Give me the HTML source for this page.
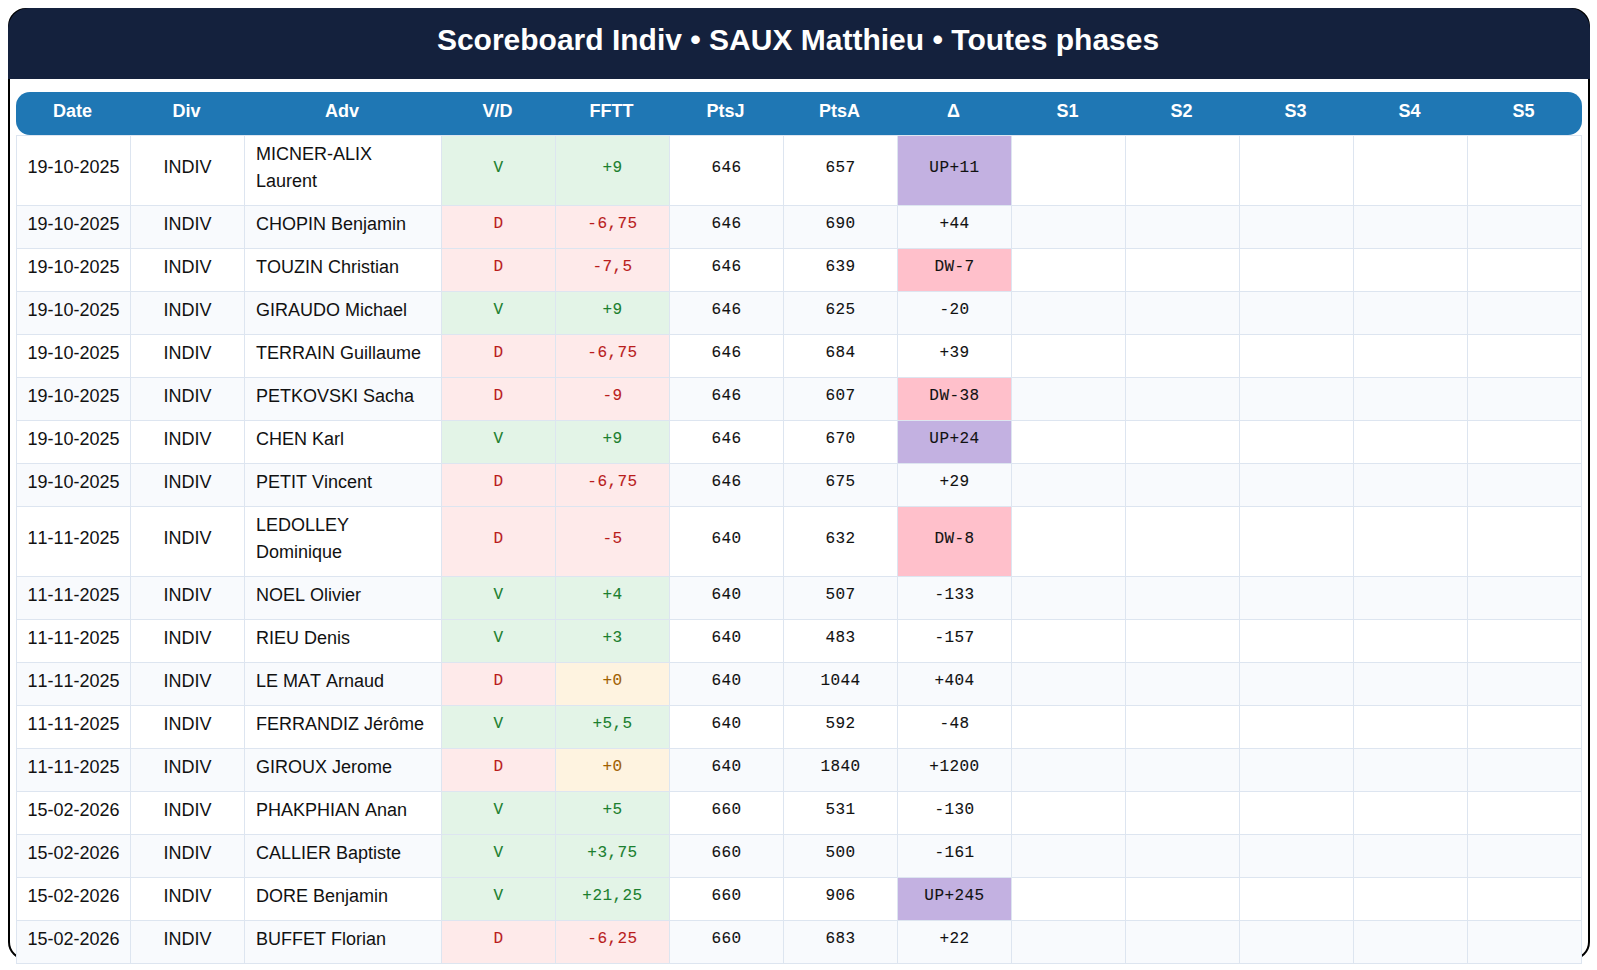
<!DOCTYPE html>
<html><head><meta charset="utf-8"><title>Scoreboard</title><style>
html,body{margin:0;padding:0;background:#fff;}
body{width:1597px;height:970px;overflow:hidden;position:relative;font-family:"Liberation Sans",sans-serif;font-kerning:none;}
.frame{position:absolute;left:8px;top:8px;width:1582px;height:952px;box-sizing:border-box;border:2px solid #000;border-radius:18px;}
.title{font-kerning:normal;position:absolute;left:7px;top:8px;width:1582px;height:71px;background:#14213d;border-radius:21px 21px 0 0;color:#fff;font-weight:bold;font-size:30px;line-height:64px;text-align:center;}
.title-bg{position:absolute;left:8px;top:8px;width:1582px;height:71px;background:#14213d;border-radius:21px 21px 0 0;}
.hbar{position:absolute;left:16px;top:92px;width:1566px;height:43px;background:#1f77b4;border-radius:14px;}
table{position:absolute;left:16px;top:92px;width:1565px;border-collapse:collapse;table-layout:fixed;font-size:18px;line-height:27px;color:#111;}
th{background:transparent;color:#fff;font-weight:bold;height:43px;padding:1px 2px 4px 0;box-sizing:border-box;text-align:center;}
td{border:1px solid #dde5f0;padding:5px 10px 10px 10px;text-align:center;height:43px;box-sizing:border-box;}
tr.odd td{background:#f8fafd;}
td.adv{text-align:left;padding-left:11px;padding-right:9px;}
td.m{font-family:"Liberation Mono",monospace;font-size:16px;letter-spacing:0.45px;-webkit-text-stroke:0.1px currentColor;}
td.gv{background:#e3f4e7 !important;color:#1b7f2f;}
td.rv{background:#feeaea !important;color:#b91c1c;}
td.ov{background:#fef3e0 !important;color:#a06000;}
td.up{background:#c3b1e1 !important;}
td.dw{background:#ffc0cb !important;}
tr.t td.m{padding-top:6px;padding-bottom:9px;}
</style></head><body>
<div class="frame"></div>
<div class="title-bg"></div>
<div class="hbar"></div>
<div class="title" style="background:transparent">Scoreboard Indiv • SAUX Matthieu • Toutes phases</div>
<table>
<colgroup><col style="width:114px"><col style="width:114px"><col style="width:197px"><col style="width:114px"><col style="width:114px"><col style="width:114px"><col style="width:114px"><col style="width:114px"><col style="width:114px"><col style="width:114px"><col style="width:114px"><col style="width:114px"><col style="width:114px"></colgroup>
<thead><tr><th class="c0">Date</th><th>Div</th><th>Adv</th><th>V/D</th><th>FFTT</th><th>PtsJ</th><th>PtsA</th><th>Δ</th><th>S1</th><th>S2</th><th>S3</th><th>S4</th><th class="cl">S5</th></tr></thead>
<tbody>
<tr class=" t"><td class="dt">19-10-2025</td><td class="dv">INDIV</td><td class="adv">MICNER-ALIX<br>Laurent</td><td class="m gv">V</td><td class="m gv">+9</td><td class="m">646</td><td class="m">657</td><td class="m up">UP+11</td><td></td><td></td><td></td><td></td><td></td></tr>
<tr class="odd"><td class="dt">19-10-2025</td><td class="dv">INDIV</td><td class="adv">CHOPIN Benjamin</td><td class="m rv">D</td><td class="m rv">-6,75</td><td class="m">646</td><td class="m">690</td><td class="m">+44</td><td></td><td></td><td></td><td></td><td></td></tr>
<tr class=""><td class="dt">19-10-2025</td><td class="dv">INDIV</td><td class="adv">TOUZIN Christian</td><td class="m rv">D</td><td class="m rv">-7,5</td><td class="m">646</td><td class="m">639</td><td class="m dw">DW-7</td><td></td><td></td><td></td><td></td><td></td></tr>
<tr class="odd"><td class="dt">19-10-2025</td><td class="dv">INDIV</td><td class="adv">GIRAUDO Michael</td><td class="m gv">V</td><td class="m gv">+9</td><td class="m">646</td><td class="m">625</td><td class="m">-20</td><td></td><td></td><td></td><td></td><td></td></tr>
<tr class=""><td class="dt">19-10-2025</td><td class="dv">INDIV</td><td class="adv">TERRAIN Guillaume</td><td class="m rv">D</td><td class="m rv">-6,75</td><td class="m">646</td><td class="m">684</td><td class="m">+39</td><td></td><td></td><td></td><td></td><td></td></tr>
<tr class="odd"><td class="dt">19-10-2025</td><td class="dv">INDIV</td><td class="adv">PETKOVSKI Sacha</td><td class="m rv">D</td><td class="m rv">-9</td><td class="m">646</td><td class="m">607</td><td class="m dw">DW-38</td><td></td><td></td><td></td><td></td><td></td></tr>
<tr class=""><td class="dt">19-10-2025</td><td class="dv">INDIV</td><td class="adv">CHEN Karl</td><td class="m gv">V</td><td class="m gv">+9</td><td class="m">646</td><td class="m">670</td><td class="m up">UP+24</td><td></td><td></td><td></td><td></td><td></td></tr>
<tr class="odd"><td class="dt">19-10-2025</td><td class="dv">INDIV</td><td class="adv">PETIT Vincent</td><td class="m rv">D</td><td class="m rv">-6,75</td><td class="m">646</td><td class="m">675</td><td class="m">+29</td><td></td><td></td><td></td><td></td><td></td></tr>
<tr class=" t"><td class="dt">11-11-2025</td><td class="dv">INDIV</td><td class="adv">LEDOLLEY<br>Dominique</td><td class="m rv">D</td><td class="m rv">-5</td><td class="m">640</td><td class="m">632</td><td class="m dw">DW-8</td><td></td><td></td><td></td><td></td><td></td></tr>
<tr class="odd"><td class="dt">11-11-2025</td><td class="dv">INDIV</td><td class="adv">NOEL Olivier</td><td class="m gv">V</td><td class="m gv">+4</td><td class="m">640</td><td class="m">507</td><td class="m">-133</td><td></td><td></td><td></td><td></td><td></td></tr>
<tr class=""><td class="dt">11-11-2025</td><td class="dv">INDIV</td><td class="adv">RIEU Denis</td><td class="m gv">V</td><td class="m gv">+3</td><td class="m">640</td><td class="m">483</td><td class="m">-157</td><td></td><td></td><td></td><td></td><td></td></tr>
<tr class="odd"><td class="dt">11-11-2025</td><td class="dv">INDIV</td><td class="adv">LE MAT Arnaud</td><td class="m rv">D</td><td class="m ov">+0</td><td class="m">640</td><td class="m">1044</td><td class="m">+404</td><td></td><td></td><td></td><td></td><td></td></tr>
<tr class=""><td class="dt">11-11-2025</td><td class="dv">INDIV</td><td class="adv">FERRANDIZ Jérôme</td><td class="m gv">V</td><td class="m gv">+5,5</td><td class="m">640</td><td class="m">592</td><td class="m">-48</td><td></td><td></td><td></td><td></td><td></td></tr>
<tr class="odd"><td class="dt">11-11-2025</td><td class="dv">INDIV</td><td class="adv">GIROUX Jerome</td><td class="m rv">D</td><td class="m ov">+0</td><td class="m">640</td><td class="m">1840</td><td class="m">+1200</td><td></td><td></td><td></td><td></td><td></td></tr>
<tr class=""><td class="dt">15-02-2026</td><td class="dv">INDIV</td><td class="adv">PHAKPHIAN Anan</td><td class="m gv">V</td><td class="m gv">+5</td><td class="m">660</td><td class="m">531</td><td class="m">-130</td><td></td><td></td><td></td><td></td><td></td></tr>
<tr class="odd"><td class="dt">15-02-2026</td><td class="dv">INDIV</td><td class="adv">CALLIER Baptiste</td><td class="m gv">V</td><td class="m gv">+3,75</td><td class="m">660</td><td class="m">500</td><td class="m">-161</td><td></td><td></td><td></td><td></td><td></td></tr>
<tr class=""><td class="dt">15-02-2026</td><td class="dv">INDIV</td><td class="adv">DORE Benjamin</td><td class="m gv">V</td><td class="m gv">+21,25</td><td class="m">660</td><td class="m">906</td><td class="m up">UP+245</td><td></td><td></td><td></td><td></td><td></td></tr>
<tr class="odd"><td class="dt">15-02-2026</td><td class="dv">INDIV</td><td class="adv">BUFFET Florian</td><td class="m rv">D</td><td class="m rv">-6,25</td><td class="m">660</td><td class="m">683</td><td class="m">+22</td><td></td><td></td><td></td><td></td><td></td></tr>
</tbody></table>
</body></html>
